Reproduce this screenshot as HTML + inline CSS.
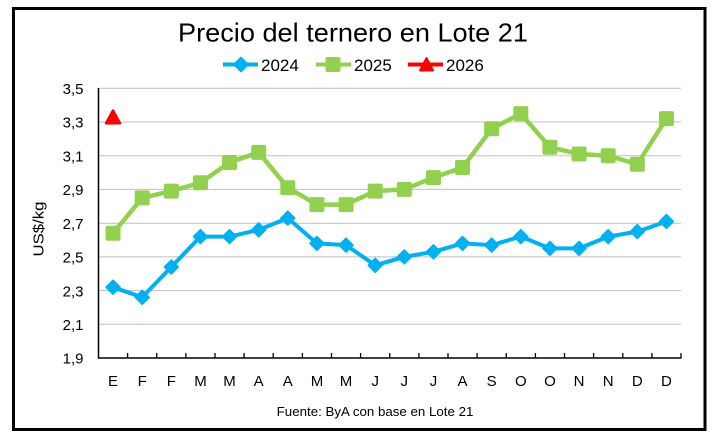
<!DOCTYPE html>
<html>
<head>
<meta charset="utf-8">
<style>
  html,body{margin:0;padding:0;background:#fff;}
  svg{display:block;}
  text{font-family:"Liberation Sans",sans-serif;fill:#000;}
</style>
</head>
<body>
<svg width="717" height="442" viewBox="0 0 717 442" xmlns="http://www.w3.org/2000/svg">
  <rect x="0" y="0" width="717" height="442" fill="#fff"/>
  <rect x="13.5" y="8.5" width="691.5" height="421" fill="#fff" stroke="#000" stroke-width="3"/>

  <!-- title -->
  <text x="178" y="41.7" font-size="26" textLength="350" lengthAdjust="spacingAndGlyphs">Precio del ternero en Lote 21</text>

  <!-- legend -->
  <line x1="223" y1="64.5" x2="258" y2="64.5" stroke="#00B0F0" stroke-width="4"/>
  <polygon points="241,57 248.5,64.5 241,72 233.5,64.5" fill="#00B0F0" stroke="#00B0F0" stroke-width="1" stroke-linejoin="round"/>
  <text x="261" y="71" font-size="17">2024</text>
  <line x1="316" y1="64.5" x2="351" y2="64.5" stroke="#92D050" stroke-width="4"/>
  <rect x="325.5" y="57" width="15" height="15" rx="2" fill="#92D050"/>
  <text x="354" y="71" font-size="17">2025</text>
  <line x1="408" y1="64.5" x2="443" y2="64.5" stroke="#FF0000" stroke-width="4"/>
  <polygon points="426.5,58 433,70.5 420,70.5" fill="#FF0000" stroke="#FF0000" stroke-width="2" stroke-linejoin="round"/>
  <text x="446" y="71" font-size="17">2026</text>

  <!-- gridlines -->
  <g stroke="#BFBFBF" stroke-width="1">
    <line x1="98.5" y1="88.3" x2="681" y2="88.3"/>
    <line x1="98.5" y1="122" x2="681" y2="122"/>
    <line x1="98.5" y1="155.7" x2="681" y2="155.7"/>
    <line x1="98.5" y1="189.4" x2="681" y2="189.4"/>
    <line x1="98.5" y1="223.2" x2="681" y2="223.2"/>
    <line x1="98.5" y1="256.9" x2="681" y2="256.9"/>
    <line x1="98.5" y1="290.6" x2="681" y2="290.6"/>
    <line x1="98.5" y1="324.3" x2="681" y2="324.3"/>
  </g>

  <!-- axes -->
  <line x1="98.5" y1="88" x2="98.5" y2="358.5" stroke="#000" stroke-width="1.5"/>
  <line x1="98" y1="358" x2="681.5" y2="358" stroke="#000" stroke-width="1.5"/>
  <g stroke="#000" stroke-width="1.3">
    <line x1="127.6" y1="353" x2="127.6" y2="358"/>
    <line x1="156.75" y1="353" x2="156.75" y2="358"/>
    <line x1="185.9" y1="353" x2="185.9" y2="358"/>
    <line x1="215" y1="353" x2="215" y2="358"/>
    <line x1="244.1" y1="353" x2="244.1" y2="358"/>
    <line x1="273.25" y1="353" x2="273.25" y2="358"/>
    <line x1="302.4" y1="353" x2="302.4" y2="358"/>
    <line x1="331.5" y1="353" x2="331.5" y2="358"/>
    <line x1="360.6" y1="353" x2="360.6" y2="358"/>
    <line x1="389.75" y1="353" x2="389.75" y2="358"/>
    <line x1="418.9" y1="353" x2="418.9" y2="358"/>
    <line x1="448" y1="353" x2="448" y2="358"/>
    <line x1="477.1" y1="353" x2="477.1" y2="358"/>
    <line x1="506.25" y1="353" x2="506.25" y2="358"/>
    <line x1="535.4" y1="353" x2="535.4" y2="358"/>
    <line x1="564.5" y1="353" x2="564.5" y2="358"/>
    <line x1="593.6" y1="353" x2="593.6" y2="358"/>
    <line x1="622.75" y1="353" x2="622.75" y2="358"/>
    <line x1="651.9" y1="353" x2="651.9" y2="358"/>
    <line x1="681" y1="353" x2="681" y2="358"/>
  </g>

  <!-- y labels -->
  <g font-size="15" text-anchor="end">
    <text x="83.5" y="94">3,5</text>
    <text x="83.5" y="127.7">3,3</text>
    <text x="83.5" y="161.4">3,1</text>
    <text x="83.5" y="195.1">2,9</text>
    <text x="83.5" y="228.9">2,7</text>
    <text x="83.5" y="262.6">2,5</text>
    <text x="83.5" y="296.3">2,3</text>
    <text x="83.5" y="330">2,1</text>
    <text x="83.5" y="363.7">1,9</text>
  </g>

  <!-- y axis title -->
  <text transform="translate(43.5,229) rotate(-90)" font-size="15" text-anchor="middle" textLength="55" lengthAdjust="spacingAndGlyphs">US$/kg</text>

  <!-- x labels -->
  <g font-size="15" text-anchor="middle">
    <text x="113.06" y="386">E</text>
    <text x="142.19" y="386">F</text>
    <text x="171.31" y="386">F</text>
    <text x="200.44" y="386">M</text>
    <text x="229.56" y="386">M</text>
    <text x="258.69" y="386">A</text>
    <text x="287.81" y="386">A</text>
    <text x="316.94" y="386">M</text>
    <text x="346.06" y="386">M</text>
    <text x="375.19" y="386">J</text>
    <text x="404.31" y="386">J</text>
    <text x="433.44" y="386">J</text>
    <text x="462.56" y="386">A</text>
    <text x="491.69" y="386">S</text>
    <text x="520.81" y="386">O</text>
    <text x="549.94" y="386">O</text>
    <text x="579.06" y="386">N</text>
    <text x="608.19" y="386">N</text>
    <text x="637.31" y="386">D</text>
    <text x="666.44" y="386">D</text>
  </g>

  <!-- series 2025 (green) -->
  <polyline fill="none" stroke="#92D050" stroke-width="4.5" stroke-linejoin="round"
    points="113.06,233.3 142.19,197.9 171.31,191.1 200.44,182.7 229.56,162.5 258.69,152.4 287.81,187.8 316.94,204.6 346.06,204.6 375.19,191.1 404.31,189.4 433.44,177.6 462.56,167.5 491.69,128.8 520.81,113.6 549.94,147.3 579.06,154 608.19,155.7 637.31,164.2 666.44,118.6"/>
  <g fill="#92D050">
    <rect x="105.56" y="225.8" width="15" height="15" rx="2"/>
    <rect x="134.69" y="190.4" width="15" height="15" rx="2"/>
    <rect x="163.81" y="183.6" width="15" height="15" rx="2"/>
    <rect x="192.94" y="175.2" width="15" height="15" rx="2"/>
    <rect x="222.06" y="155" width="15" height="15" rx="2"/>
    <rect x="251.19" y="144.9" width="15" height="15" rx="2"/>
    <rect x="280.31" y="180.3" width="15" height="15" rx="2"/>
    <rect x="309.44" y="197.1" width="15" height="15" rx="2"/>
    <rect x="338.56" y="197.1" width="15" height="15" rx="2"/>
    <rect x="367.69" y="183.6" width="15" height="15" rx="2"/>
    <rect x="396.81" y="181.9" width="15" height="15" rx="2"/>
    <rect x="425.94" y="170.1" width="15" height="15" rx="2"/>
    <rect x="455.06" y="160" width="15" height="15" rx="2"/>
    <rect x="484.19" y="121.3" width="15" height="15" rx="2"/>
    <rect x="513.31" y="106.1" width="15" height="15" rx="2"/>
    <rect x="542.44" y="139.8" width="15" height="15" rx="2"/>
    <rect x="571.56" y="146.5" width="15" height="15" rx="2"/>
    <rect x="600.69" y="148.2" width="15" height="15" rx="2"/>
    <rect x="629.81" y="156.7" width="15" height="15" rx="2"/>
    <rect x="658.94" y="111.1" width="15" height="15" rx="2"/>
  </g>

  <!-- series 2024 (blue) -->
  <polyline fill="none" stroke="#00B0F0" stroke-width="4" stroke-linejoin="round"
    points="113.06,287.2 142.19,297.3 171.31,267 200.44,236.6 229.56,236.6 258.69,229.9 287.81,218.1 316.94,243.4 346.06,245.1 375.19,265.3 404.31,256.9 433.44,251.8 462.56,243.4 491.69,245.1 520.81,236.6 549.94,248.4 579.06,248.4 608.19,236.6 637.31,231.6 666.44,221.5"/>
  <g fill="#00B0F0" stroke="#00B0F0" stroke-width="1.5" stroke-linejoin="round">
    <polygon points="113.06,280.2 120.06,287.2 113.06,294.2 106.06,287.2"/>
    <polygon points="142.19,290.3 149.19,297.3 142.19,304.3 135.19,297.3"/>
    <polygon points="171.31,260 178.31,267 171.31,274 164.31,267"/>
    <polygon points="200.44,229.6 207.44,236.6 200.44,243.6 193.44,236.6"/>
    <polygon points="229.56,229.6 236.56,236.6 229.56,243.6 222.56,236.6"/>
    <polygon points="258.69,222.9 265.69,229.9 258.69,236.9 251.69,229.9"/>
    <polygon points="287.81,211.1 294.81,218.1 287.81,225.1 280.81,218.1"/>
    <polygon points="316.94,236.4 323.94,243.4 316.94,250.4 309.94,243.4"/>
    <polygon points="346.06,238.1 353.06,245.1 346.06,252.1 339.06,245.1"/>
    <polygon points="375.19,258.3 382.19,265.3 375.19,272.3 368.19,265.3"/>
    <polygon points="404.31,249.9 411.31,256.9 404.31,263.9 397.31,256.9"/>
    <polygon points="433.44,244.8 440.44,251.8 433.44,258.8 426.44,251.8"/>
    <polygon points="462.56,236.4 469.56,243.4 462.56,250.4 455.56,243.4"/>
    <polygon points="491.69,238.1 498.69,245.1 491.69,252.1 484.69,245.1"/>
    <polygon points="520.81,229.6 527.81,236.6 520.81,243.6 513.81,236.6"/>
    <polygon points="549.94,241.4 556.94,248.4 549.94,255.4 542.94,248.4"/>
    <polygon points="579.06,241.4 586.06,248.4 579.06,255.4 572.06,248.4"/>
    <polygon points="608.19,229.6 615.19,236.6 608.19,243.6 601.19,236.6"/>
    <polygon points="637.31,224.6 644.31,231.6 637.31,238.6 630.31,231.6"/>
    <polygon points="666.44,214.5 673.44,221.5 666.44,228.5 659.44,221.5"/>
  </g>

  <!-- series 2026 (red) -->
  <polygon points="113,110.5 120,123.3 106,123.3" fill="#FF0000" stroke="#FF0000" stroke-width="2.5" stroke-linejoin="round"/>

  <!-- footnote -->
  <text x="276.7" y="416" font-size="13" textLength="196.7" lengthAdjust="spacingAndGlyphs">Fuente: ByA con base en Lote 21</text>
</svg>
</body>
</html>
